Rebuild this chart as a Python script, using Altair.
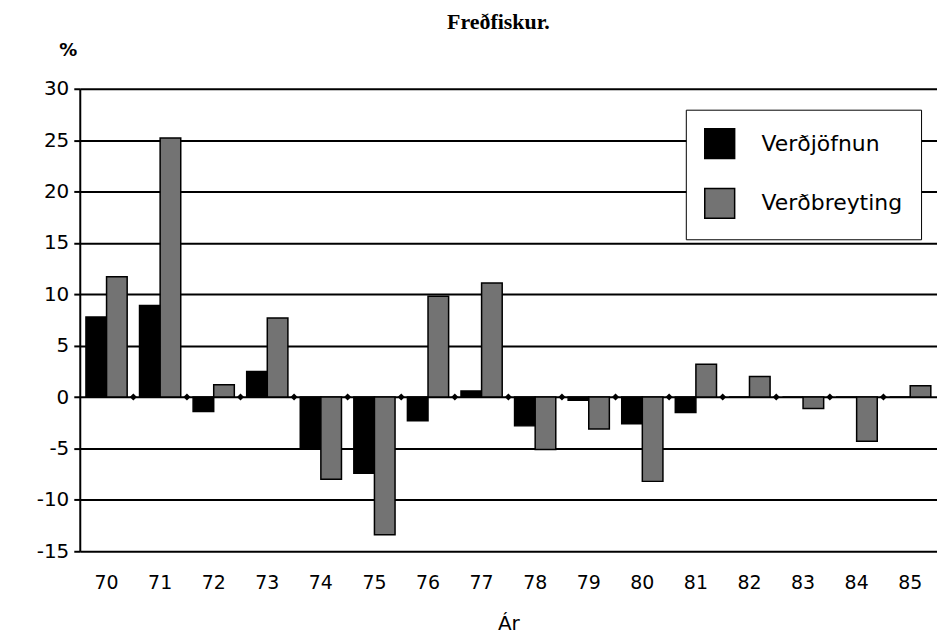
import altair as alt
import pandas as pd

years = ["70", "71", "72", "73", "74", "75", "76", "77", "78", "79", "80", "81", "82", "83", "84", "85"]
verdjofnun = [7.8, 8.9, -1.4, 2.5, -4.9, -7.4, -2.3, 0.6, -2.8, -0.3, -2.6, -1.5, 0.0, 0.0, 0.0, 0.0]
verdbreyting = [11.7, 25.2, 1.2, 7.7, -8.0, -13.4, 9.8, 11.1, -5.1, -3.1, -8.2, 3.2, 2.0, -1.1, -4.3, 1.1]
series = ["Verðjöfnun", "Verðbreyting"]
colors = ["#000000", "#737373"]
y_ticks = [30, 25, 20, 15, 10, 5, 0, -5, -10, -15]

rows = []
for i, yr in enumerate(years):
    rows.append({"year": yr, "series": series[0], "value": verdjofnun[i]})
    rows.append({"year": yr, "series": series[1], "value": verdbreyting[i]})
df = pd.DataFrame(rows)
bounds = pd.DataFrame({"year": years[1:], "value": [0] * (len(years) - 1)})

FONT = "DejaVu Sans"

xscale = alt.Scale(domain=years, paddingInner=0, paddingOuter=0)
yscale = alt.Scale(domain=[-15, 30], nice=False)

bars = alt.Chart(df).mark_bar(stroke="black", strokeWidth=1.5).encode(
    x=alt.X("year:N", scale=xscale, sort=years,
            axis=alt.Axis(title="Ár", labelAngle=0, ticks=False, domain=False,
                          labelFontSize=19, labelFont=FONT, labelColor="black",
                          labelPadding=22, titleFont=FONT, titleFontSize=20,
                          titleFontWeight="normal", titleColor="black", titlePadding=21)),
    xOffset=alt.XOffset("series:N", sort=series,
                        scale=alt.Scale(domain=series, paddingOuter=0.3, paddingInner=0)),
    y=alt.Y("value:Q", scale=yscale,
            axis=alt.Axis(values=y_ticks, title="%", titleAngle=0, titleX=-12, titleY=-38,
                          titleAlign="center", titleBaseline="middle", titleFont=FONT,
                          titleFontSize=18, titleFontWeight="bold", titleColor="black",
                          grid=True, gridColor="black", gridWidth=2, gridOpacity=1,
                          domainColor="black", domainWidth=2, tickColor="black",
                          tickWidth=2, tickSize=6, labelFontSize=20, labelFont=FONT,
                          labelColor="black", labelPadding=5,
                          labelExpr="'' + datum.value")),
    color=alt.Color("series:N", sort=series,
                    scale=alt.Scale(domain=series, range=colors),
                    legend=alt.Legend(title=None, orient="none", legendX=608, legendY=21,
                                      fillColor="white", strokeColor="black",
                                      padding=18, symbolType="square", symbolSize=900,
                                      symbolStrokeColor="black", symbolStrokeWidth=1.5,
                                      labelFontSize=22, labelFont=FONT, labelColor="black",
                                      labelOffset=26, rowPadding=24)),
)

diamonds = alt.Chart(bounds).mark_point(shape="diamond", filled=True, color="black", size=50, opacity=1).encode(
    x=alt.X("year:N", scale=xscale, sort=years, bandPosition=0),
    y=alt.Y("value:Q", scale=yscale),
)

chart = alt.layer(bars, diamonds).properties(
    width=860,
    height=464,
    title=alt.TitleParams("Freðfiskur.", font="Liberation Serif", fontSize=22,
                          fontWeight="bold", color="black", anchor="middle", dx=-10, offset=8),
    autosize=alt.AutoSizeParams(type="none"),
    padding={"left": 72, "top": 80, "right": 0, "bottom": 87},
).configure_view(stroke=None)

chart.save("out.html", embed_options={"renderer": "svg", "actions": False})
